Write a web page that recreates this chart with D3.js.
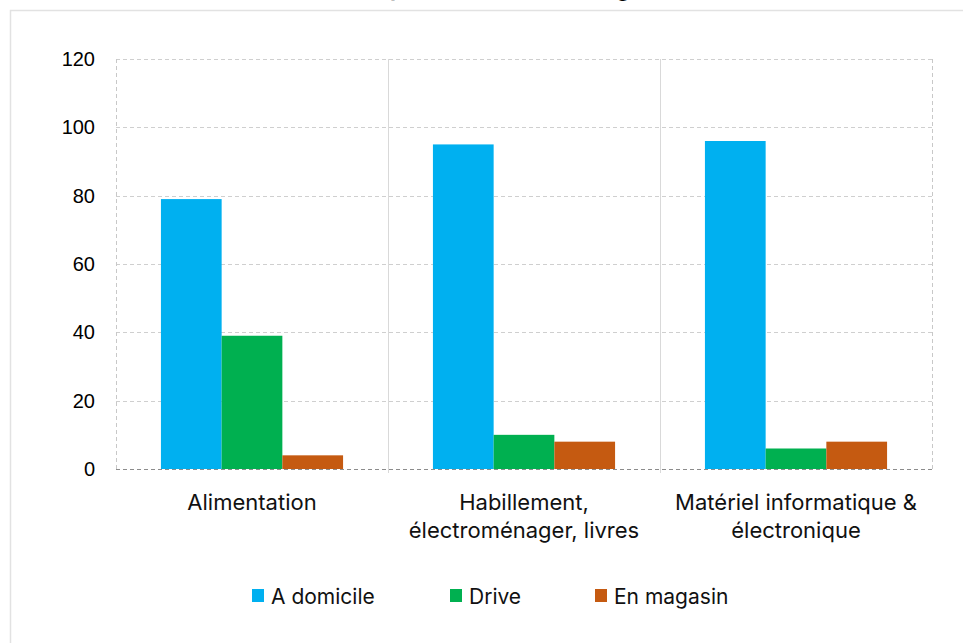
<!DOCTYPE html>
<html lang="fr">
  <head>
    <meta charset="UTF-8" />
    <title>Mode de réception des achats en ligne</title>
    <style>
      body {
        margin: 0;
        background: #fff;
      }
      svg {
        display: block;
        font-family: Inter, "Open Sans", sans-serif;
        color: #000;
      }
      .yaxis text {
        font-family: "Liberation Sans", Arial, sans-serif;
        font-size: 20px;
        text-anchor: end;
      }
      .xlabels text {
        font-size: 22px;
        fill: #111;
      }
      .legend text {
        font-size: 21px;
        fill: #111;
      }
    </style>
  </head>
  <body>
    <svg width="963" height="643"></svg>
    <script src="https://cdn.jsdelivr.net/npm/d3@7"></script>
    <script>
      const categories = [
        ["Alimentation"],
        ["Habillement,", "électroménager, livres"],
        ["Matériel informatique &", "électronique"],
      ];
      const series = ["A domicile", "Drive", "En magasin"];
      const colors = ["#00B0F0", "#00B050", "#C55A11"];
      const aDomicile = [79, 95, 96];
      const drive = [39, 10, 6];
      const enMagasin = [4, 8, 8];
      const yTicks = [0, 20, 40, 60, 80, 100, 120];

      const values = [aDomicile, drive, enMagasin];
      const svg = d3.select("svg");
      const plotLeft = 116, plotRight = 932, plotTop = 59, plotBottom = 469;

      // frame of the chart area (goes off the right and bottom edges)
      svg.append("path")
        .attr("d", "M10.5,980V10.5H980")
        .attr("fill", "none")
        .attr("stroke", "#e2e2e2")
        .attr("stroke-width", 1.5);

      // title, cut at the top of the picture
      const title = svg.append("text")
        .attr("y", -4)
        .attr("font-weight", 700)
        .attr("font-size", 22)
        .text("Mode de réception des achats en ligne en 2021 (%)");
      const pIdx = title.text().indexOf("p");
      const px = title.node().getStartPositionOfChar(pIdx).x;
      title.attr("x", 390 - px);

      const x0 = d3.scaleBand()
        .domain(d3.range(categories.length))
        .range([plotLeft, plotRight]);
      const x1 = d3.scaleBand()
        .domain(d3.range(series.length))
        .range([0, x0.bandwidth()])
        .paddingOuter(0.74)
        .paddingInner(0);
      const y = d3.scaleLinear().domain([0, 120]).range([plotBottom, plotTop]);

      // horizontal grid lines
      svg.append("g")
        .selectAll("line")
        .data(yTicks.filter((t) => t > 0))
        .join("line")
        .attr("x1", plotLeft)
        .attr("x2", plotRight)
        .attr("y1", (d) => Math.round(y(d)) + 0.5)
        .attr("y2", (d) => Math.round(y(d)) + 0.5)
        .attr("stroke", "#cfcfcf")
        .attr("stroke-dasharray", "4,3");

      // left and right dashed borders
      svg.append("g")
        .selectAll("line")
        .data([plotLeft, plotRight])
        .join("line")
        .attr("x1", (d) => d + 0.5)
        .attr("x2", (d) => d + 0.5)
        .attr("y1", plotTop)
        .attr("y2", plotBottom)
        .attr("stroke", "#c8c8c8")
        .attr("stroke-dasharray", "4,3");

      // category separators
      svg.append("g")
        .selectAll("line")
        .data(d3.range(1, categories.length))
        .join("line")
        .attr("x1", (d) => x0(d) + 0.5)
        .attr("x2", (d) => x0(d) + 0.5)
        .attr("y1", plotTop)
        .attr("y2", plotBottom + 4)
        .attr("stroke", "#d9d9d9");

      // bars
      svg.append("g")
        .selectAll("g")
        .data(values)
        .join("g")
        .attr("fill", (_, i) => colors[i])
        .selectAll("rect")
        .data((d, s) => d.map((v, c) => ({ v, c, s })))
        .join("rect")
        .attr("x", (d) => x0(d.c) + x1(d.s))
        .attr("width", x1.bandwidth())
        .attr("y", (d) => y(d.v))
        .attr("height", (d) => y(0) - y(d.v));

      // x axis line
      svg.append("line")
        .attr("x1", plotLeft)
        .attr("x2", plotRight)
        .attr("y1", plotBottom + 0.5)
        .attr("y2", plotBottom + 0.5)
        .attr("stroke", "#8c8c8c")
        .attr("stroke-width", 1.2)
        .attr("stroke-dasharray", "4,3");

      // y axis labels
      svg.append("g")
        .attr("class", "yaxis")
        .selectAll("text")
        .data(yTicks)
        .join("text")
        .attr("x", 95)
        .attr("y", (d) => y(d) + 7)
        .text((d) => d);

      // category labels
      svg.append("g")
        .attr("class", "xlabels")
        .selectAll("text")
        .data(categories)
        .join("text")
        .attr("text-anchor", "middle")
        .attr("transform", (_, i) => `translate(${x0(i) + x0.bandwidth() / 2},510)`)
        .selectAll("tspan")
        .data((d) => d)
        .join("tspan")
        .attr("x", 0)
        .attr("y", (_, i) => i * 28)
        .text((d) => d);

      // legend
      const legendX = [252, 450, 595];
      const legend = svg.append("g")
        .attr("class", "legend")
        .selectAll("g")
        .data(series)
        .join("g")
        .attr("transform", (_, i) => `translate(${legendX[i]},589)`);
      legend.append("rect")
        .attr("width", 12)
        .attr("height", 13)
        .attr("fill", (_, i) => colors[i]);
      legend.append("text")
        .attr("x", 19)
        .attr("y", 15)
        .text((d) => d);
    </script>
  </body>
</html>
